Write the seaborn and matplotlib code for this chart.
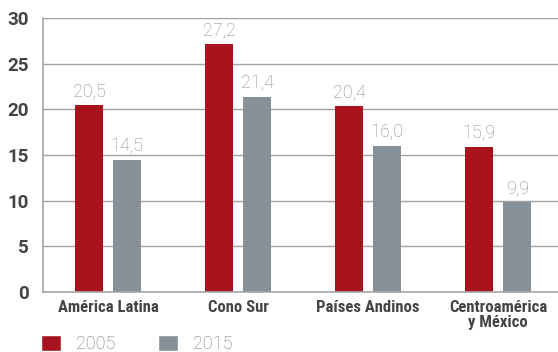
import matplotlib
matplotlib.use("Agg")
import matplotlib.pyplot as plt
import seaborn as sns
import pandas as pd
from matplotlib.patches import Patch

categories = ["América Latina", "Cono Sur", "Países Andinos", "Centroamérica\ny México"]
years = ["2005", "2015"]
values_2005 = [20.5, 27.2, 20.4, 15.9]
values_2015 = [14.5, 21.4, 16.0, 9.9]
yticks = [0, 5, 10, 15, 20, 25, 30]

df = pd.DataFrame({
    "region": categories * 2,
    "year": [years[0]] * 4 + [years[1]] * 4,
    "value": values_2005 + values_2015,
})

sns.set_theme(style="white")
cond = ["Liberation Sans Narrow", "Roboto Condensed", "DejaVu Sans Condensed", "Roboto", "DejaVu Sans"]
plt.rcParams["font.family"] = cond

red = "#A8131E"
grey = "#87919A"
palette = {years[0]: red, years[1]: grey}

fig = plt.figure(figsize=(5.58, 3.52), dpi=100)
ax = fig.add_axes([0.077, 0.170, 0.923, 0.779])

sns.barplot(data=df, x="region", y="value", hue="year", palette=palette,
            width=0.585, gap=0.26, saturation=1, linewidth=0, ax=ax, legend=False)

ax.set_ylim(0, 30)
ax.set_xlim(-0.5, 3.46)
ax.set_yticks(yticks)
ax.set_yticklabels([str(t) for t in yticks], fontsize=13.5, fontweight="bold",
                   color="#444444", family=["Roboto", "DejaVu Sans"])
ax.tick_params(axis="y", length=0, pad=10)
ax.tick_params(axis="x", length=0, pad=6)
for lbl in ax.get_xticklabels():
    lbl.set_fontsize(12)
    lbl.set_fontweight("bold")
    lbl.set_color("#444444")
    lbl.set_linespacing(1.0)
ax.set_xlabel("")
ax.set_ylabel("")
ax.yaxis.grid(True, color="#a0a0a0", linewidth=1.0)
ax.set_axisbelow(True)
for s in ["top", "right"]:
    ax.spines[s].set_visible(False)
for s in ["left", "bottom"]:
    ax.spines[s].set_color("#a6a6a6")
    ax.spines[s].set_linewidth(1.2)

for cont in ax.containers:
    labels = [f"{b.get_height():.1f}".replace(".", ",") for b in cont]
    ax.bar_label(cont, labels=labels, padding=3, fontsize=13, color="#8a8a8a",
                 family=["Roboto", "DejaVu Sans"], fontweight="light")

handles = [Patch(facecolor=red, label=years[0]), Patch(facecolor=grey, label=years[1])]
leg = fig.legend(handles=handles, loc="lower left", bbox_to_anchor=(0.045, -0.05),
                 ncol=2, frameon=False, fontsize=13, handlelength=1.1, handleheight=1.0,
                 columnspacing=2.4, handletextpad=0.8)
for t in leg.get_texts():
    t.set_color("#777777")
    t.set_family(["Roboto", "DejaVu Sans"])
    t.set_fontweight("light")

fig.savefig("out.png", dpi=100)
